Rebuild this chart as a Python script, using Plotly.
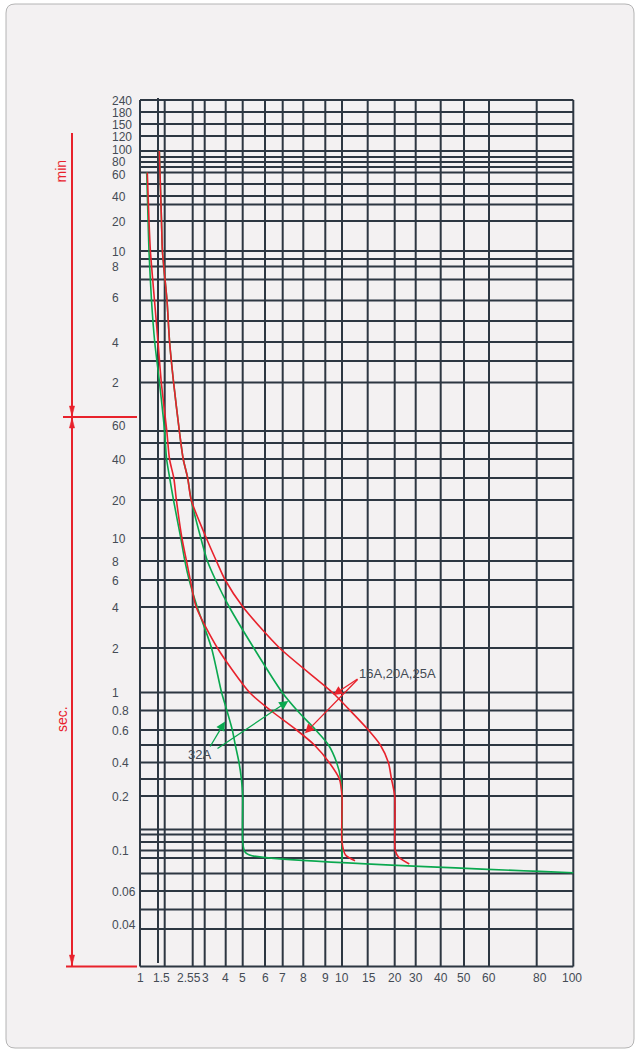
import numpy as np
import plotly.graph_objects as go

# ---- horizontal scale: multiples of rated current and where each grid line sits in the frame
I_GRID = [1, 1.45, 1.5, 2.5, 3, 4, 5, 6, 7, 8, 9, 10, 15, 20, 30, 40, 50, 60, 80, 100]
I_GRID_POS = [0, 18, 24.7, 52.7, 64.7, 85.7, 102.7, 125, 142.7, 163.3, 185.3, 202,
              227.7, 254.7, 275.7, 300.7, 324, 349, 396.7, 433.3]
I_TICKS = [1, 1.5, 2.5, 3, 4, 5, 6, 7, 8, 9, 10, 15, 20, 30, 40, 50, 60, 80, 100]
I_TICK_TEXT = ["1", "1.5", "2.55", "3", "4", "5", "6", "7", "8", "9", "10",
               "15", "20", "30", "40", "50", "60", "80", "100"]

# ---- vertical scale: tripping time in seconds (upper block is read in minutes)
T_GRID = [14400, 10800, 9000, 7200, 6000, 5400, 4800, 4200, 3600, 3000, 2400, 1800,
          1200, 600, 540, 480, 420, 360, 300, 240, 180, 120,
          60, 50, 40, 30, 20, 10, 8, 6, 4, 2, 1, 0.8, 0.6, 0.5, 0.4, 0.3, 0.2,
          0.15, 0.13, 0.12, 0.1, 0.09, 0.08, 0.06, 0.05, 0.04, 0.03]
T_GRID_POS = [0, 12, 24, 36, 51, 57, 62, 67, 72.5, 84, 96, 104.5,
              121, 151, 159, 166.5, 179.5, 200.5, 221, 242, 261, 282.5,
              331, 343, 359, 378, 400, 438, 461, 480, 507, 548, 592.5, 610.5, 630, 645, 662.5, 679, 696,
              729.5, 734.5, 742, 750.5, 758, 773.5, 791, 809.5, 829, 866.5]
MIN_TICKS = [14400, 10800, 9000, 7200, 6000, 4800, 3600, 2400, 1200, 600, 480, 360, 240, 120]
MIN_TICK_TEXT = ["240", "180", "150", "120", "100", "80", "60", "40", "20", "10", "8", "6", "4", "2"]
SEC_TICKS = [60, 40, 20, 10, 8, 6, 4, 2, 1, 0.8, 0.6, 0.4, 0.2, 0.1, 0.06, 0.04]
SEC_TICK_TEXT = ["60", "40", "20", "10", "8", "6", "4", "2", "1", "0.8", "0.6", "0.4",
                 "0.2", "0.1", "0.06", "0.04"]

# ---- tripping curves (I/In, seconds)
G32_LOW_I = [1.148, 1.182, 1.204, 1.268, 1.355, 1.461, 1.499, 1.553, 1.643, 1.761, 2.012, 2.168,
             2.345, 2.677, 3.293, 3.781, 4.063, 4.363, 4.537, 4.763, 4.915, 5.0, 5.0, 5.095, 5.395, 100]
G32_LOW_T = [3600, 1200, 600, 360, 240, 120, 60, 40, 30, 20, 10, 8,
             6, 4, 2, 1, 0.8, 0.6, 0.5, 0.4, 0.3, 0.2, 0.12, 0.098, 0.093, 0.0805]

G32_HIGH_I = [1.4597, 1.4645, 1.476, 1.4828, 1.5644, 1.640, 1.7646, 1.9597, 2.102, 2.282, 2.4325,
              2.8275, 3.113, 3.483, 4.193, 5.474, 6.970, 7.690, 8.549, 9.184, 9.666, 9.924, 10, 10]
G32_HIGH_T = [6000, 3600, 1200, 600, 360, 240, 120, 60, 40, 30, 20,
              10, 8, 6, 4, 2, 1, 0.8, 0.6, 0.5, 0.4, 0.3, 0.2, 0.088]

R25_LOW_I = [1.1627, 1.204, 1.2395, 1.349, 1.45, 1.4745, 1.5586, 1.6374, 1.771, 1.8569, 2.053, 2.233,
             2.393, 2.637, 3.570, 5.290, 6.306, 7.660, 8.489, 9.224, 9.838, 10, 10, 10.57, 12.28]
R25_LOW_T = [3600, 1200, 600, 360, 240, 120, 60, 40, 30, 20, 10, 8,
             6, 4, 2, 1, 0.8, 0.6, 0.5, 0.4, 0.3, 0.2, 0.12, 0.0939, 0.0882]

R25_HIGH_I = [1.4597, 1.4645, 1.476, 1.4828, 1.5644, 1.640, 1.7646, 1.9597, 2.102, 2.282, 2.4325,
              3.0665, 3.521, 3.972, 5.012, 6.814, 9.417, 11.36, 15.11, 17.16, 18.70, 19.33, 20, 20,
              20.2, 21.52, 26.51]
R25_HIGH_T = [6000, 3600, 1200, 600, 360, 240, 120, 60, 40, 30, 20,
              10, 8, 6, 4, 2, 1, 0.8, 0.6, 0.5, 0.4, 0.3, 0.2, 0.12,
              0.1, 0.0913, 0.086]

GREEN = "#0aa84f"
RED = "#e8222c"
GRID = "#2d3742"
TEXT = "#444b55"
FONT = "Arial, Liberation Sans, sans-serif"

_ln_i = np.log(I_GRID)
_pos_i = np.array(I_GRID_POS)
_ln_t = np.log(T_GRID)[::-1]
_pos_t = np.array(T_GRID_POS)[::-1]


def xpos(v):
    return np.interp(np.log(v), _ln_i, _pos_i)


def ypos(t):
    return np.interp(np.log(t), _ln_t, _pos_t)


fig = go.Figure()

for xs, ts, col in [(G32_LOW_I, G32_LOW_T, GREEN), (G32_HIGH_I, G32_HIGH_T, GREEN),
                    (R25_LOW_I, R25_LOW_T, RED), (R25_HIGH_I, R25_HIGH_T, RED)]:
    fig.add_trace(go.Scatter(
        x=xpos(xs), y=ypos(ts), mode="lines",
        line=dict(color=col, width=1.6, shape="spline", smoothing=0.7),
        hoverinfo="skip", showlegend=False))

shapes = []
# card behind the chart
x0, x1, y0, y1, r = -134, 494, -96, 948, 9
shapes.append(dict(
    type="path", layer="below", fillcolor="#f3f1f2", line=dict(color="#b4b4b4", width=1),
    path=(f"M{x0+r},{y0} L{x1-r},{y0} Q{x1},{y0} {x1},{y0+r} L{x1},{y1-r} Q{x1},{y1} {x1-r},{y1} "
          f"L{x0+r},{y1} Q{x0},{y1} {x0},{y1-r} L{x0},{y0+r} Q{x0},{y0} {x0+r},{y0} Z")))

top, bottom = ypos(max(T_GRID)), ypos(min(T_GRID))
left, right = xpos(min(I_GRID)), xpos(max(I_GRID))
for v in T_GRID:
    shapes.append(dict(type="line", layer="below", x0=left, x1=right, y0=ypos(v), y1=ypos(v),
                       line=dict(color=GRID, width=2)))
for v in I_GRID:
    if v == 1.45:
        ya, yb = top - 2, bottom - 3.5
    else:
        ya, yb = top, bottom
    shapes.append(dict(type="line", layer="below", x0=xpos(v), x1=xpos(v), y0=ya, y1=yb,
                       line=dict(color=GRID, width=2)))

# minute / second brackets on the left
split = 317
bx = -68
shapes += [
    dict(type="line", x0=bx, x1=bx, y0=33, y1=bottom, line=dict(color=RED, width=2)),
    dict(type="line", x0=-77, x1=-3, y0=split, y1=split, line=dict(color=RED, width=2)),
    dict(type="line", x0=-74, x1=-3, y0=bottom, y1=bottom, line=dict(color=RED, width=2)),
]
for tip, d in [(split - 1, 1), (split + 1, -1), (bottom - 1.5, 1)]:
    shapes.append(dict(type="path", fillcolor=RED, line=dict(color=RED, width=0.5),
                       path=f"M{bx-2.6},{tip-10*d} L{bx+2.6},{tip-10*d} L{bx},{tip} Z"))

annotations = []
y_nudge = {("min", "100"): -2.0, ("min", "80"): -0.5, ("min", "60"): 1.5, ("min", "6"): -3,
           ("sec", "60"): -5.5, ("sec", "0.04"): -4.5}
for block, ticks, texts in [("min", MIN_TICKS, MIN_TICK_TEXT), ("sec", SEC_TICKS, SEC_TICK_TEXT)]:
    for t, s in zip(ticks, texts):
        annotations.append(dict(
            x=-29, y=float(ypos(t)) + y_nudge.get((block, s), 0) + 0.5, text=s, showarrow=False,
            xanchor="left", yanchor="middle", borderpad=0,
            font=dict(size=12, color=TEXT, family=FONT)))

x_nudge = {"1.5": -3.7, "2.55": -3.5, "3": 0.8, "15": 1.6, "80": 3.3, "100": -1.6, "1": 0.7}
for v, s in zip(I_TICKS, I_TICK_TEXT):
    annotations.append(dict(
        x=float(xpos(v)) + x_nudge.get(s, 0), y=878, text=s, showarrow=False,
        xanchor="center", yanchor="middle", font=dict(size=12, color=TEXT, family=FONT)))

annotations += [
    dict(x=-80, y=71.5, text="min", textangle=-90, showarrow=False,
         font=dict(size=14, color=RED, family=FONT)),
    dict(x=-78, y=619, text="sec.", textangle=-90, showarrow=False,
         font=dict(size=14, color=RED, family=FONT)),
    dict(x=float(xpos(12.67)), y=float(ypos(1.355)), text="16A,20A,25A", showarrow=False,
         xanchor="left", yanchor="middle", font=dict(size=13, color=TEXT, family=FONT)),
    dict(x=float(xpos(2.751)), y=float(ypos(0.443)), text="32A", showarrow=False,
         xanchor="center", yanchor="middle", font=dict(size=13, color=TEXT, family=FONT)),
]

# callout arrows pointing at the curves
for (tx, tt), (hx, ht), col in [
        ((13.08, 1.2535), (9.465, 0.9695), RED),
        ((13.08, 1.2535), (8.073, 0.5764), RED),
        ((3.195, 0.4813), (3.962, 0.680), GREEN),
        ((3.502, 0.472), (7.259, 0.9), GREEN)]:
    annotations.append(dict(
        x=float(xpos(hx)), y=float(ypos(ht)), ax=float(xpos(tx)), ay=float(ypos(tt)),
        axref="x", ayref="y", xref="x", yref="y", text="", showarrow=True,
        arrowhead=2, arrowsize=1.4, arrowwidth=1.3, arrowcolor=col, standoff=0))

fig.update_layout(
    width=641, height=1052, margin=dict(l=0, r=0, t=0, b=0),
    paper_bgcolor="white", plot_bgcolor="white",
    xaxis=dict(range=[-140, 501], visible=False, fixedrange=True),
    yaxis=dict(range=[952, -100], visible=False, fixedrange=True),
    shapes=shapes, annotations=annotations,
)

fig.write_html("out.html")
